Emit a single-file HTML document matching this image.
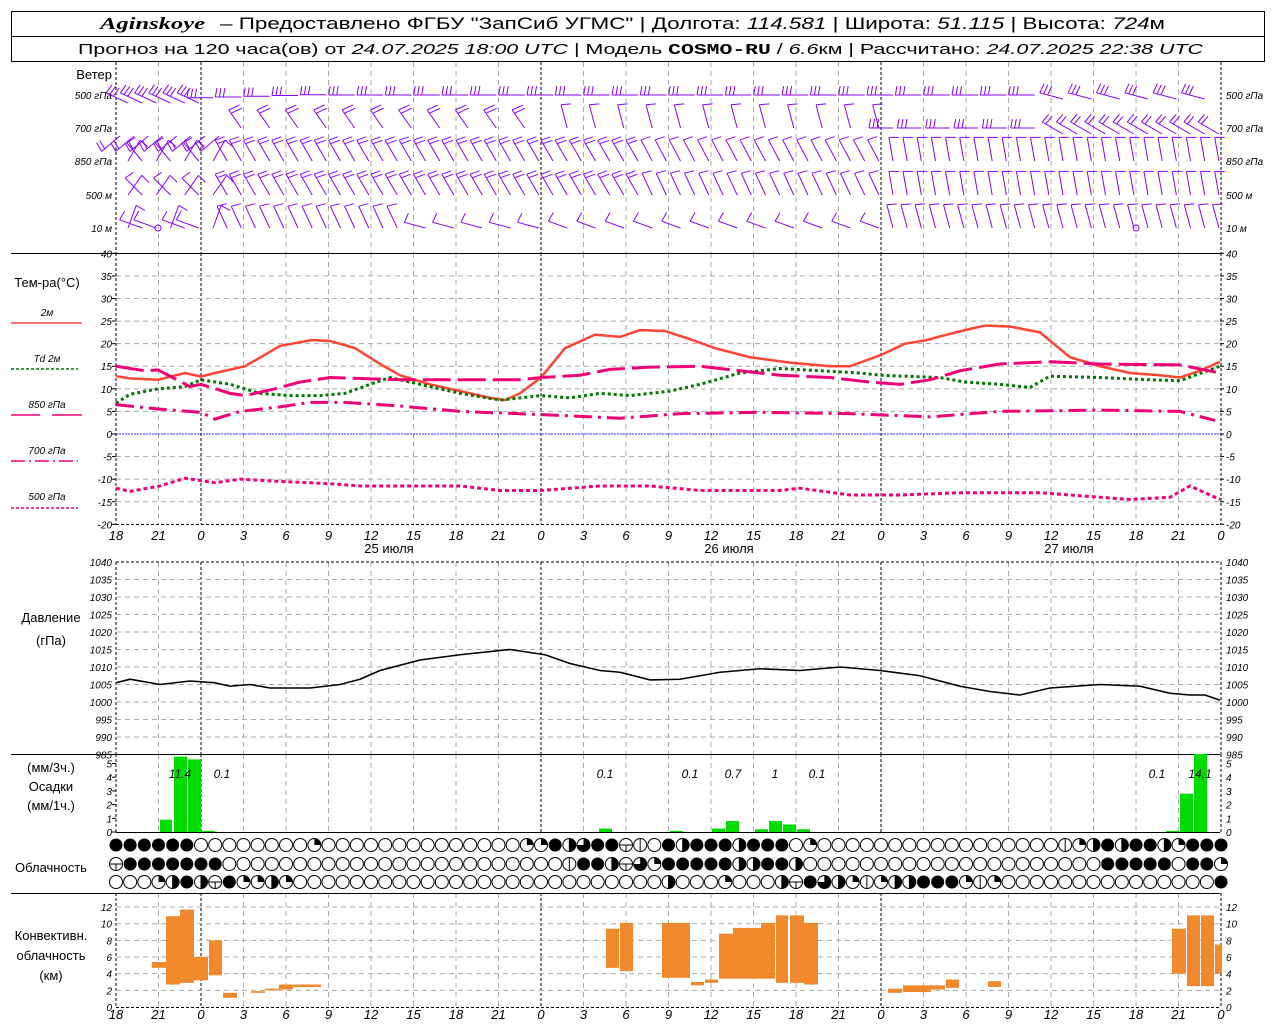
<!DOCTYPE html>
<html><head><meta charset="utf-8">
<style>
html,body{margin:0;padding:0;background:#fff;}
svg{display:block;font-family:"Liberation Sans",sans-serif;}
.t{font-size:13px;fill:#000}
.n{font-size:10px;font-style:italic;fill:#000}
.ax{font-size:13px;font-style:italic;fill:#000}
</style></head><body>
<svg id="s" width="1280" height="1024" viewBox="0 0 1280 1024" xmlns="http://www.w3.org/2000/svg">
<rect width="1280" height="1024" fill="#fff"/>
<rect x="11.5" y="11.5" width="1253" height="50" fill="none" stroke="#000"/>
<line x1="11" y1="36.5" x2="1265" y2="36.5" stroke="#000"/>
<text x="100" y="29" textLength="105" lengthAdjust="spacingAndGlyphs" style="font-size:17px;font-family:'Liberation Serif',serif;font-style:italic;font-weight:bold">Aginskoye</text>
<text x="220" y="29" textLength="945" lengthAdjust="spacingAndGlyphs" style="font-size:17px">– Предоставлено ФГБУ "ЗапСиб УГМС" | Долгота: <tspan font-style="italic">114.581</tspan> | Широта: <tspan font-style="italic">51.115</tspan> | Высота: <tspan font-style="italic">724</tspan>м</text>
<text x="78" y="54" textLength="1125" lengthAdjust="spacingAndGlyphs" style="font-size:15px">Прогноз на 120 часа(ов) от <tspan font-style="italic">24.07.2025 18:00 UTC</tspan>  | Модель <tspan font-family="Liberation Mono" font-weight="bold">COSMO-RU</tspan> / <tspan font-style="italic">6.6</tspan>км | Рассчитано: <tspan font-style="italic">24.07.2025 22:38 UTC</tspan></text>
<g id="g"></g>
</svg>
<script>
var S=document.getElementById('g'),out='';
function X(h){return 116+h*14.167;}
function L(x1,y1,x2,y2,st){out+='<line x1="'+x1+'" y1="'+y1+'" x2="'+x2+'" y2="'+y2+'" '+st+'/>';}
function T(x,y,s,cl,anc){out+='<text x="'+x+'" y="'+y+'" class="'+cl+'"'+(anc?' text-anchor="'+anc+'"':'')+'>'+s+'</text>';}
var G='stroke="#aaa" stroke-dasharray="5,4" stroke-width="1"',K='stroke="#000" stroke-dasharray="3,2" stroke-width="1"';
var panels=[[62,253],[253,524],[562,754],[754,832],[893,1007]];
panels.forEach(function(p){for(var h=0;h<=78;h+=3){var x=X(h);var mid=(h%24==6);L(x,p[0],x,p[1],(mid||h==0||h==78)?K:G);}});
function ty(t){return 434-t*4.517;}
for(var t=-20;t<=40;t+=5){var y=ty(t);if(t!=40&&t!=-20)L(116,y,1220,y,G);T(112,y+4,t,'n','end');T(1226,y+4,t,'n');L(112,y,116,y,'stroke="#000"');L(1220,y,1224,y,'stroke="#000"');}
L(116,434,1220,434,'stroke="#33f" stroke-dasharray="2,1"');
L(11,253.5,1220,253.5,'stroke="#000"');L(116,524.5,1220,524.5,'stroke="#000" stroke-dasharray="3,2"');
function tl(y){for(var h=0;h<=78;h+=3){var v=(18+h)%24;T(X(h),y,v,'ax','middle');}}
tl(540);tl(1019);
T(389,553,'25 июля','t','middle');T(729,553,'26 июля','t','middle');T(1069,553,'27 июля','t','middle');
function py(p){return 562+(1040-p)*3.5;}
for(var p=985;p<=1040;p+=5){var y=py(p);if(p<1040&&p>985)L(116,y,1220,y,G);T(112,y+4,p,'n','end');T(1226,y+4,p,'n');}
L(116,562,1220,562,K);L(11,754.5,1220,754.5,'stroke="#000"');
for(var i=0;i<=5;i++){var y=832-i*13.7;T(112,y+4,i,'n','end');L(112,y,116,y,'stroke="#000"');T(1226,y+4,i,'n');}
L(116,832.5,1220,832.5,'stroke="#000"');L(11,893.5,1220,893.5,'stroke="#000"');
function cy(k){return 1007-k*8.33;}
for(var k=0;k<=12;k+=2){var y=cy(k);if(k>0)L(116,y,1220,y,G);T(112,y+4,k,'n','end');T(1226,y+4,k,'n');}
L(116,1007.5,1220,1007.5,K);
T(112,79,'Ветер','t','end');
[['500 гПа',95],['700 гПа',128],['850 гПа',161],['500 м',195],['10  м',228]].forEach(function(a){T(112,a[1]+4,a[0],'n','end');T(1226,a[1]+4,a[0],'n');});
T(47,287,'Тем-ра(°C)','t','middle');
T(47,316,'2м','n','middle');L(11,323,82,323,'stroke="#f44" stroke-width="1.5"');
T(47,362,'Td  2м','n','middle');L(11,369,78,369,'stroke="#070" stroke-dasharray="3,2" stroke-width="1.5"');
T(47,408,'850 гПа','n','middle');L(11,415,40,415,'stroke="#e07" stroke-width="1.5"');L(52,415,82,415,'stroke="#e07" stroke-width="1.5"');
T(47,454,'700 гПа','n','middle');L(11,461,78,461,'stroke="#e07" stroke-dasharray="14,4,2,4" stroke-width="1.5"');
T(47,500,'500 гПа','n','middle');L(11,508,78,508,'stroke="#e07" stroke-dasharray="3,2" stroke-width="1.5"');
T(51,622,'Давление','t','middle');T(51,645,'(гПа)','t','middle');
T(51,772,'(мм/3ч.)','t','middle');T(51,791,'Осадки','t','middle');T(51,810,'(мм/1ч.)','t','middle');
T(51,872,'Облачность','t','middle');
T(51,940,'Конвективн.','t','middle');T(51,960,'облачность','t','middle');T(51,980,'(км)','t','middle');
function poly(pts,f,st){var s='';pts.forEach(function(q){s+=q[0]+','+f(q[1])+' ';});out+='<polyline fill="none" points="'+s+'" '+st+'/>';}
poly([[116,12.8],[130,12.3],[158,12],[185,13.5],[201,12.7],[215,13.5],[245,15],[280,19.5],[312,20.8],[330,20.6],[355,19],[380,15.5],[400,13],[430,11],[460,9.5],[490,8],[505,7.5],[520,9],[541,12.5],[565,19],[595,22],[620,21.5],[640,23],[665,22.8],[690,21],[715,19],[750,17],[790,15.8],[830,15],[850,15],[881,17.5],[905,20],[925,20.7],[940,21.6],[965,23],[985,24],[1010,23.8],[1040,22.5],[1070,17],[1100,15],[1130,13.5],[1160,13],[1180,12.5],[1200,14],[1220,16]],ty,'stroke="#f43" stroke-width="2.5"');
poly([[116,6.8],[130,8.8],[158,10],[185,10.5],[201,12],[230,11],[260,9],[290,8.5],[320,8.5],[345,9],[370,11],[390,12.5],[420,11],[460,9],[500,7.5],[541,8.5],[570,8],[600,9],[630,8.5],[670,9.5],[700,11],[740,13.5],[780,14.5],[820,14],[860,13.5],[881,13],[940,12.5],[965,11.5],[1000,11],[1030,10.3],[1050,12.8],[1100,12.5],[1150,12],[1180,11.8],[1220,15]],ty,'stroke="#070" stroke-width="3" stroke-dasharray="3,3"');
poly([[116,15],[145,14],[158,14.2],[190,10.5],[201,11],[230,9],[245,8.5],[275,10],[300,11.5],[330,12.5],[400,12],[460,12],[520,12],[541,12.5],[580,13],[610,14.3],[650,14.8],[700,15],[740,14],[780,13],[830,12.5],[870,11.5],[900,11],[930,12],[960,14],[1000,15.5],[1050,16],[1100,15.5],[1180,15.3],[1220,13.5]],ty,'stroke="#e07" stroke-width="3" stroke-dasharray="28,7"');
poly([[116,6.5],[160,5.5],[201,4.8],[215,3.3],[240,5],[280,6],[310,7],[345,7],[400,6.2],[460,5],[541,4.3],[620,3.5],[680,4.5],[760,4.8],[850,4.5],[930,3.8],[1000,5],[1100,5.3],[1180,5],[1215,3]],ty,'stroke="#e07" stroke-width="3" stroke-dasharray="18,6,3,6"');
poly([[116,-12],[130,-12.7],[160,-11.5],[185,-9.8],[215,-10.8],[240,-10],[280,-10.5],[330,-11],[360,-11.5],[400,-11.5],[460,-11.5],[500,-12.5],[541,-12.5],[600,-11.5],[650,-11.5],[700,-12.5],[780,-12.5],[800,-12],[850,-13.5],[900,-13.5],[960,-13],[1040,-13],[1100,-14],[1130,-14.5],[1170,-14],[1190,-11.5],[1220,-14.5]],ty,'stroke="#e07" stroke-width="3" stroke-dasharray="4,3"');
poly([[116,1005.5],[130,1006.5],[160,1005],[190,1006],[215,1005.5],[230,1004.5],[250,1005],[270,1004],[310,1004],[340,1005],[360,1006.5],[380,1009],[420,1012],[460,1013.5],[510,1015],[545,1013.5],[570,1011],[600,1009],[620,1008.5],[650,1006.3],[680,1006.5],[720,1008.5],[760,1009.5],[800,1009],[840,1010],[880,1009],[920,1007.5],[960,1004.5],[990,1003],[1020,1002],[1050,1004],[1100,1005],[1140,1004.5],[1170,1002.5],[1190,1002],[1205,1002],[1220,1000.5]],py,'stroke="#000" stroke-width="1.6"');
[[160,172,0.9],[174,187,5.5],[188,201,5.3],[201,215,0.08],[599,612,0.25],[670,683,0.08],[712,725,0.25],[726,739,0.8],[755,768,0.2],[769,782,0.8],[783,796,0.55],[797,810,0.2],[1166,1179,0.08],[1180,1193,2.8],[1194,1207,6]].forEach(function(b){var y=Math.max(754,832-b[2]*13.7);out+='<rect x="'+b[0]+'" y="'+y+'" width="'+(b[1]-b[0])+'" height="'+(832-y)+'" fill="#0d0"/>';});
[[180,'11.4'],[222,'0.1'],[605,'0.1'],[690,'0.1'],[733,'0.7'],[775,'1'],[817,'0.1'],[1157,'0.1'],[1200,'14.1']].forEach(function(a){out+='<text x="'+a[0]+'" y="778" class="n" style="font-size:12px" text-anchor="middle">'+a[1]+'</text>';});
[[152,166,5.4,4.7],[166,180,10.9,2.7],[180,194,11.7,2.9],[194,208,6,3.2],[209,222,8,3.8],[223,237,1.7,1.1],[251,265,1.9,1.7],[265,279,2.2,2],[279,293,2.7,2.1],[293,307,2.7,2.4],[307,321,2.7,2.4],[606,619,9.4,4.7],[620,633,10.1,4.3],[662,690,10.1,3.5],[691,704,3,2.6],[705,718,3.3,2.9],[719,733,8.8,3.4],[733,761,9.5,3.4],[761,775,10.1,3.4],[776,788,11,2.9],[790,804,11,2.9],[804,818,10.1,2.7],[888,902,2.2,1.7],[903,931,2.6,1.8],[931,945,2.6,2.1],[946,959,3.3,2.3],[988,1001,3.1,2.4],[1172,1186,9.4,4],[1187,1200,11,2.5],[1201,1214,11,2.5],[1215,1222,7.5,4]].forEach(function(b){var y1=cy(b[2]),y2=cy(b[3]);out+='<rect x="'+b[0]+'" y="'+y1+'" width="'+(b[1]-b[0])+'" height="'+(y2-y1)+'" fill="#f0882c"/>';});
function row(str){var a=str.split(''),r=[];for(var i=0;i<79;i++)r.push(a[i]||'o');return r;}
var R1=row('ffffffooooooooqooooooooooooooqqfvwffxlofvfffvfffoqooooooooooooooooolqvfvffvqfffq');
var R2=row('xfffffffoooooooooooooooooooooooolffvxwqfffffvvffvooooooooooooooooooooofffffoffqv');
var R3=row('oooqvfvxfqqvqoooooooooooooooooooooooooovoooqooovxfwvqlqvvfffqlqooooooooooooooofqo');
function circ(x,y,c){var r=6.5;var s='';
 if(c=='f'){s='<circle cx="'+x+'" cy="'+y+'" r="'+r+'" fill="#000"/>';}
 else{s='<circle cx="'+x+'" cy="'+y+'" r="'+r+'" fill="#fff" stroke="#000"/>';
  if(c=='q')s+='<path d="M'+x+','+y+' L'+x+','+(y-r)+' A'+r+','+r+' 0 0 1 '+(x+r)+','+y+' Z" fill="#000"/>';
  if(c=='v')s+='<path d="M'+x+','+(y-r)+' A'+r+','+r+' 0 0 1 '+x+','+(y+r)+' Z" fill="#000"/><line x1="'+x+'" y1="'+(y-r)+'" x2="'+x+'" y2="'+(y+r)+'" stroke="#000"/>';
  if(c=='w')s+='<path d="M'+x+','+y+' L'+x+','+(y-r)+' A'+r+','+r+' 0 1 1 '+(x-r)+','+y+' Z" fill="#000"/>';
  if(c=='x')s+='<line x1="'+(x-r)+'" y1="'+y+'" x2="'+(x+r)+'" y2="'+y+'" stroke="#000"/><line x1="'+x+'" y1="'+y+'" x2="'+x+'" y2="'+(y+r)+'" stroke="#000"/>';
  if(c=='l')s+='<line x1="'+x+'" y1="'+(y-r)+'" x2="'+x+'" y2="'+(y+r)+'" stroke="#000"/>';
 }
 out+=s;}
for(var i=0;i<79;i++){circ(X(i),845,R1[i]);circ(X(i),864,R2[i]);circ(X(i),882,R3[i]);}
var P='stroke="#80f" stroke-width="1"';
function barb(x,y,ang,n,len,fl){var a=ang*Math.PI/180,dx=Math.cos(a),dy=Math.sin(a);len=len||24;fl=fl||10;var ex=x+dx*len,ey=y+dy*len;L(x.toFixed(1),y.toFixed(1),ex.toFixed(1),ey.toFixed(1),P);
 var fa=(ang+100)*Math.PI/180;for(var k=0;k<n;k++){var bx=ex-dx*k*4,by=ey-dy*k*4;L(bx.toFixed(1),by.toFixed(1),(bx+Math.cos(fa)*fl).toFixed(1),(by+Math.sin(fa)*fl).toFixed(1),P);}}
for(var h=0;h<78;h++){var x=X(h)+12;
 var yb=95+(x<200?8:(x<330?3-(x-200)/40:0))+(x>1040&&x<1220?4:0);
 if(h%2==0||x<210){
 if(x<205)barb(x,yb,205,3);else if(x<900)barb(x,yb,180,3,26,9);else if(x<1040)barb(x,yb,180,3,26,9);else barb(x,yb,195,3);}
 var y7=128;
 if(x<240)barb(x-8,y7+8,140,2);else if(x<545){if(h%2==0)barb(x,y7,-125,2,22,12);}else if(x<880){if(h%2==1)barb(x,y7,-105,1);}else if(x<1050){if(h%2==0)barb(x,y7,180,3,24,9);}else barb(x,y7+6,210,2);
 if(x<215)barb(x,161,h%2?-130:-60,1);else if(x<650)barb(x,161,-120,2);else if(x<880)barb(x,161,-118,1);else barb(x,161,-100,1);
 if(x<215)barb(x,195,h%2?-135:-55,1);else if(x<650)barb(x,195,-120,2);else if(x<880)barb(x,195,-115,1);else barb(x,195,-100,1);
 if(x<215)barb(x,228,h%3?200:-70,1);else if(x<400)barb(x,228,-115,1);else if(x<540){if(h%2)barb(x,228,195,1,22);}else if(x<880){if(h%2)barb(x,228,200,1,20);}else barb(x,228,-105,1);
}
out+='<circle cx="158" cy="228" r="3" fill="none" stroke="#80f"/><circle cx="1136" cy="228" r="3" fill="none" stroke="#80f"/>';
S.innerHTML=out;
</script>
</body></html>
